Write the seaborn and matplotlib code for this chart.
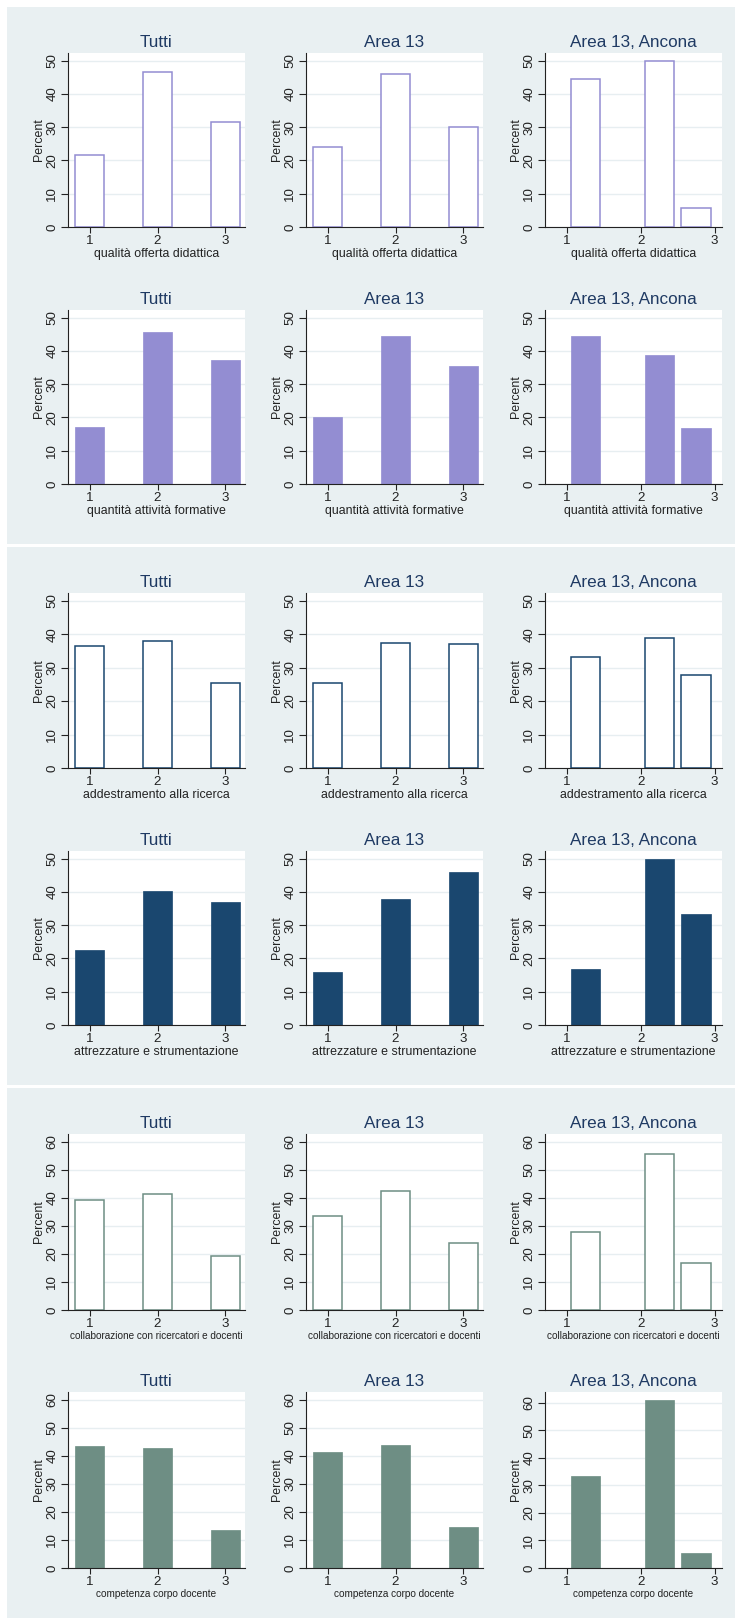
import numpy as np
import matplotlib
matplotlib.use("Agg")
import matplotlib.pyplot as plt
import seaborn as sns
from matplotlib.patches import Rectangle

# answer categories and panel titles
categories = [1, 2, 3]
titles = ["Tutti", "Area 13", "Area 13, Ancona"]

# percent for categories 1,2,3 -> [Tutti, Area 13, Area 13 Ancona]
qualita_offerta = [[21.7, 46.6, 31.7], [24.0, 45.9, 30.1], [44.4, 50.0, 5.6]]
quantita_attivita = [[17.1, 45.6, 37.3], [20.1, 44.4, 35.5], [44.4, 38.9, 16.7]]
addestramento = [[36.6, 37.9, 25.5], [25.5, 37.3, 37.2], [33.3, 38.9, 27.8]]
attrezzature = [[22.6, 40.3, 37.1], [15.9, 38.0, 46.1], [16.7, 50.0, 33.3]]
collaborazione = [[39.4, 41.2, 19.4], [33.4, 42.6, 24.0], [27.8, 55.6, 16.7]]
competenza = [[43.5, 42.9, 13.6], [41.4, 44.0, 14.6], [33.3, 61.1, 5.6]]

xlabels = ["qualità offerta didattica", "quantità attività formative",
           "addestramento alla ricerca", "attrezzature e strumentazione",
           "collaborazione con ricercatori e docenti", "competenza corpo docente"]
ytick_max = [50, 50, 50, 50, 60, 60]

# stata s2color-ish palette
lavender = "#938DD2"
navy = "#1A476F"
teal = "#6E8E84"
bg = "#E9F0F2"
title_col = "#1F3A63"
ink = "#222222"

rows = [
    (qualita_offerta, lavender, True),
    (quantita_attivita, lavender, False),
    (addestramento, navy, True),
    (attrezzature, navy, False),
    (collaborazione, teal, True),
    (competenza, teal, False),
]

sns.set_theme(style="white")
plt.rcParams["font.family"] = ["Liberation Sans", "DejaVu Sans"]

W, H = 735, 1618
fig = plt.figure(figsize=(W / 100, H / 100), dpi=100)
fig.patch.set_facecolor("white")


def px_rect(x, y, w, h):
    return [x / W, 1 - (y + h) / H, w / W, h / H]


# three shaded graph regions
for y0, y1 in [(7, 544), (547, 1085), (1088, 1618)]:
    fig.patches.append(Rectangle((7 / W, 1 - y1 / H), (W - 7) / W, (y1 - y0) / H,
                                 transform=fig.transFigure, facecolor=bg,
                                 edgecolor="none", zorder=-10))

col_left = [68, 306, 545]
ax_w = 177
row_top = [53, 310, 593, 851, 1134, 1392]
row_bot = [227, 484, 768, 1025, 1310, 1568]
# Ancona panels: stata picked 4 bins of width .5 over [1, 3]
edges = list(np.linspace(1, 3, 5))

for r, (vals3, col, hollow) in enumerate(rows):
    for c in range(3):
        ax = fig.add_axes(px_rect(col_left[c], row_top[r], ax_w, row_bot[r] - row_top[r]))
        vals = vals3[c]
        if hollow:
            style = dict(color="white", edgecolor=col, linewidth=1.1)
        else:
            style = dict(color=col, edgecolor=col, linewidth=0.5)
        if c < 2:
            sns.histplot(x=categories, weights=vals, discrete=True, shrink=0.42,
                         alpha=1, ax=ax, **style)
            ax.set_xlim(0.68, 3.29)
        else:
            sns.histplot(x=categories, weights=vals, bins=edges, shrink=0.8,
                         alpha=1, ax=ax, **style)
            ax.set_xlim(0.7, 3.1)
        # empty bins would leave a flat outline on the baseline
        for p in list(ax.patches):
            if p.get_height() == 0:
                p.remove()

        top = max(ytick_max[r], max(vals)) * 1.046
        ax.set_ylim(0, top)
        ax.set_yticks(range(0, ytick_max[r] + 1, 10))
        ax.set_xticks(categories)
        ax.yaxis.grid(True, color="#E7EEF1", linewidth=1.0)
        ax.set_axisbelow(True)
        for s in ["top", "right"]:
            ax.spines[s].set_visible(False)
        for s in ["left", "bottom"]:
            ax.spines[s].set_color(ink)
            ax.spines[s].set_linewidth(0.8)
        ax.tick_params(axis="y", length=5, width=0.8, color=ink, labelsize=9.6,
                       labelcolor=ink, pad=2, labelrotation=90, left=True)
        ax.tick_params(axis="x", length=4.3, width=0.8, color=ink, labelsize=9.6,
                       labelcolor=ink, pad=1.5, bottom=True)
        for lab in ax.get_yticklabels():
            lab.set_va("center")
        ax.set_ylabel("Percent", fontsize=8.9, color=ink, labelpad=1)
        ax.set_xlabel(xlabels[r], fontsize=8.9 if r < 4 else 7.2, color=ink, labelpad=1)
        ax.set_title(titles[c], fontsize=12.3, color=title_col, pad=4)

fig.savefig("out.png", dpi=100, facecolor="white")
